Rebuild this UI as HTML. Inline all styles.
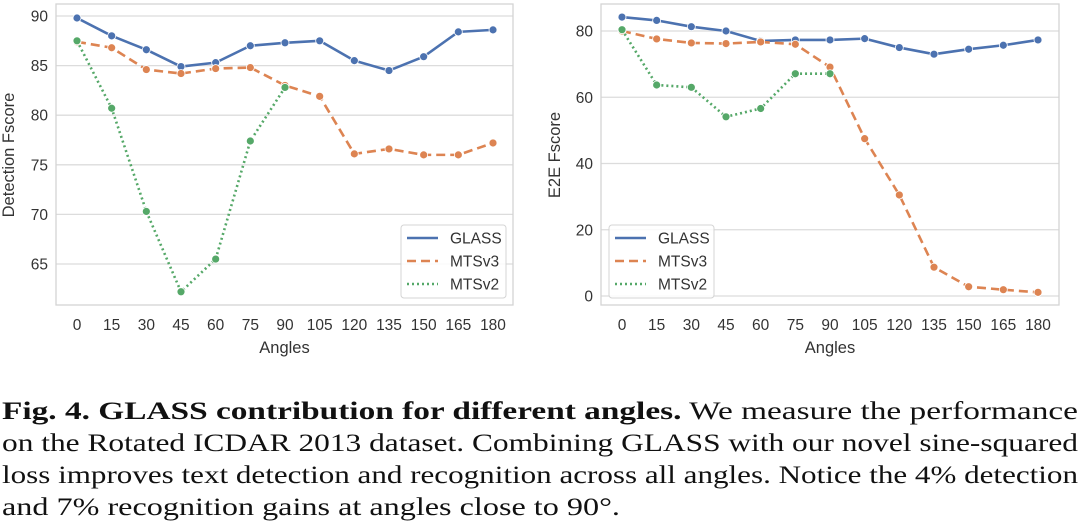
<!DOCTYPE html>
<html><head><meta charset="utf-8"><style>
body{margin:0;background:#fff;width:1080px;height:531px;overflow:hidden;position:relative;font-family:"Liberation Sans",sans-serif}
svg{position:absolute;left:0;top:0}
</style></head><body>
<svg id="chart" width="1080" height="531">
<g font-family="Liberation Serif, serif" font-size="25" fill="#111">
<text x="2" y="419" textLength="1076" lengthAdjust="spacingAndGlyphs"><tspan font-weight="bold">Fig. 4. GLASS contribution for different angles.</tspan> We measure the performance</text>
<text x="2" y="451" textLength="1076" lengthAdjust="spacingAndGlyphs">on the Rotated ICDAR 2013 dataset. Combining GLASS with our novel sine-squared</text>
<text x="2" y="483" textLength="1076" lengthAdjust="spacingAndGlyphs">loss improves text detection and recognition across all angles. Notice the 4% detection</text>
<text x="2" y="515" textLength="618" lengthAdjust="spacingAndGlyphs">and 7% recognition gains at angles close to 90°.</text>
</g>
</svg>
<script>
const angles=[0,15,30,45,60,75,90,105,120,135,150,165,180];
const detGlass=[89.8,88,86.6,84.9,85.3,87,87.3,87.5,85.5,84.5,85.9,88.4,88.6];
const detV3=[87.4,86.8,84.6,84.2,84.7,84.8,83,81.9,76.1,76.6,76,76,77.2];
const detV2=[87.5,80.7,70.3,62.2,65.5,77.4,82.8];
const e2eGlass=[84.2,83.2,81.3,80,77,77.3,77.3,77.7,75,73,74.5,75.7,77.3];
const e2eV3=[80,77.6,76.4,76.2,76.7,76,69.1,47.5,30.5,8.7,2.8,1.9,1.1];
const e2eV2=[80.4,63.7,63,54.1,56.6,67.1,67.1];
const detTicks=[65,70,75,80,85,90];
const e2eTicks=[0,20,40,60,80];
const names=["GLASS","MTSv3","MTSv2"];
const colors=["#4c72b0","#dd8452","#55a868"];
const dashes=["","9,5","2,3"];
const NS="http://www.w3.org/2000/svg";
const svg=document.getElementById('chart');
function el(t,a,p){const e=document.createElementNS(NS,t);for(const k in a)e.setAttribute(k,a[k]);(p||svg).appendChild(e);return e;}
function panel(cfg){
  const g=el('g',{});
  
  
  const X=a=>cfg.x0+(a-angles[0])/(angles[angles.length-1]-angles[0])*(cfg.x1-cfg.x0);
  const Y=v=>cfg.ya+(v-cfg.va)/(cfg.vb-cfg.va)*(cfg.yb-cfg.ya);
  cfg.ticks.forEach(t=>{
    const l=el('line',{x1:cfg.fx0,x2:cfg.fx1,y1:Y(t),y2:Y(t),stroke:'#dcdcdc','stroke-width':1.3},g);
    
    
    const tx=el('text',{x:cfg.fx0-8,y:Y(t)+5.5,'text-anchor':'end','font-size':15.5,fill:'#333'},g);
    tx.textContent=t;
    
    
  });
  const fr=el('rect',{x:cfg.fx0,y:4,width:cfg.fx1-cfg.fx0,height:301,fill:'none',stroke:'#d4d4d4','stroke-width':1.3},g);
  
  
  angles.forEach(a=>{
    const tx=el('text',{x:X(a),y:330,'text-anchor':'middle','font-size':15.5,fill:'#333'},g);
    tx.textContent=a;
    
    
  });
  const xl=el('text',{x:(cfg.fx0+cfg.fx1)/2,y:353,'text-anchor':'middle','font-size':16.5,fill:'#333'},g);
  xl.textContent='Angles';
  
  
  const yl=el('text',{x:0,y:0,'text-anchor':'middle','font-size':16.5,fill:'#333',transform:`translate(${cfg.ylx},${cfg.yly}) rotate(-90)`},g);
  yl.textContent=cfg.ytitle;
  
  
  cfg.series.forEach((s,i)=>{
    const pts=s.map((v,j)=>X(angles[j])+','+Y(v)).join(' ');
    const pl=el('polyline',{points:pts,fill:'none',stroke:colors[i],'stroke-width':2.6,'stroke-dasharray':dashes[i],'stroke-linejoin':'round'},g);
    
    
    s.forEach((v,j)=>{
      const c=el('circle',{cx:X(angles[j]),cy:Y(v),r:4,fill:colors[i],stroke:'#fff','stroke-width':0.8},g);
      
      
    });
  });
  const lg=el('g',{},g);
  
  
  el('rect',{x:cfg.lx,y:225,width:105,height:73,rx:3,fill:'#fff','fill-opacity':0.85,stroke:'#d4d4d4'},lg);
  names.forEach((n,i)=>{
    const y=238+i*23;
    el('line',{x1:cfg.lx+6,x2:cfg.lx+37,y1:y,y2:y,stroke:colors[i],'stroke-width':2.4,'stroke-dasharray':dashes[i]},lg);
    const t=el('text',{x:cfg.lx+49,y:y+5.5,'font-size':15.5,fill:'#333'},lg);
    t.textContent=n;
    
    
  });
}
panel({id:'detection-chart',fx0:56,fx1:513,x0:77,x1:493,ya:16,va:90,yb:264,vb:65,ticks:detTicks,ytitle:'Detection Fscore',ylx:14,yly:155,series:[detGlass,detV3,detV2],lx:401});
panel({id:'e2e-chart',fx0:601,fx1:1059,x0:622,x1:1038,ya:31,va:80,yb:296,vb:0,ticks:e2eTicks,ytitle:'E2E Fscore',ylx:560,yly:155,series:[e2eGlass,e2eV3,e2eV2],lx:609});
</script>
</body></html>
